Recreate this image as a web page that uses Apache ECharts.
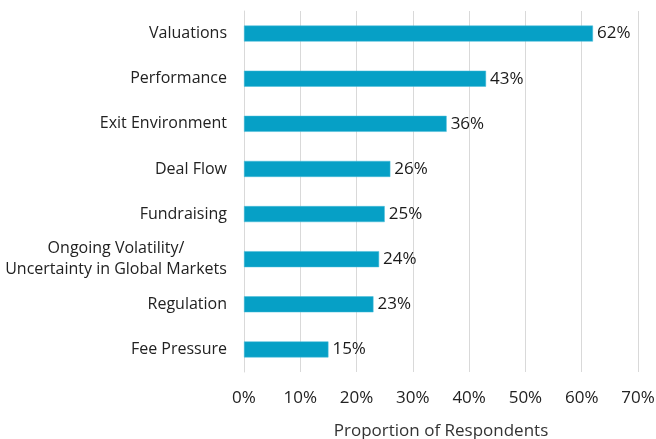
<!DOCTYPE html>
<html>
<head>
<meta charset="utf-8">
<script src="https://cdn.jsdelivr.net/npm/echarts@6/dist/echarts.min.js"></script>
<style>
  html, body { margin: 0; padding: 0; background: #fff; }
  #main { width: 656px; height: 439px; }
</style>
</head>
<body>
<div id="main"></div>
<script>
var categories = ['Valuations', 'Performance', 'Exit Environment', 'Deal Flow', 'Fundraising',
  'Ongoing Volatility/\nUncertainty in Global Markets', 'Regulation', 'Fee Pressure']
var values = [62, 43, 36, 26, 25, 24, 23, 15]
var xTicks = [0, 10, 20, 30, 40, 50, 60, 70]

var myChart = echarts.init(document.getElementById('main'))
var font = 'Open Sans'
var option = {
  animation: false,
  grid: { left: 244, right: 18, top: 11, bottom: 67, containLabel: false, outerBoundsMode: 'none' },
  xAxis: {
    type: 'value',
    min: xTicks[0],
    max: xTicks[xTicks.length - 1],
    interval: 10,
    name: 'Proportion of Respondents',
    nameLocation: 'middle',
    nameGap: 51,
    nameTextStyle: { fontFamily: font, fontSize: 17, color: '#333' },
    axisLine: { show: false },
    axisTick: { show: false },
    axisLabel: { formatter: '{value}%', fontFamily: font, fontSize: 17, color: '#222', margin: 18 },
    splitLine: { lineStyle: { color: '#d9d9d9', width: 1 } },
  },
  yAxis: {
    type: 'category',
    data: categories,
    inverse: true,
    axisLine: { show: true, lineStyle: { color: '#d9d9d9' } },
    axisTick: { show: false },
    axisLabel: {
      fontFamily: font, fontSize: 16, color: '#222', margin: 17,
      formatter: function (v) {
        if (v.indexOf('\n') < 0) return v
        // two-line label, lines centred on each other
        return v.split('\n').map(function (s) { return '{c|' + s + '}' }).join('\n')
      },
      rich: {
        c: { fontFamily: font, fontSize: 16, color: '#222', width: 222, align: 'center', lineHeight: 21 },
      },
    },
  },
  series: [
    {
      type: 'bar',
      data: values,
      barWidth: 16,
      itemStyle: { color: '#06a0c6', borderColor: '#48bddb', borderWidth: 0.5 },
      label: {
        show: true,
        position: 'right',
        distance: 4,
        formatter: '{c}%',
        fontFamily: font,
        fontSize: 17,
        color: '#1a1a1a',
      },
    },
  ],
}
myChart.setOption(option, true)
</script>
</body>
</html>
